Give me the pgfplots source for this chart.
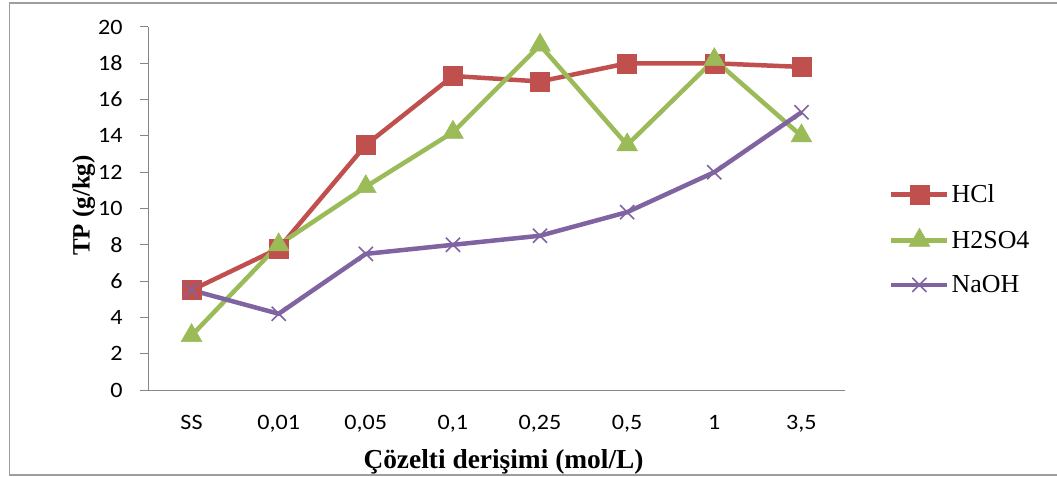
\documentclass[border=0pt]{standalone}
\usepackage{fontspec}
\usepackage{pgfplots}
\pgfplotsset{compat=1.18}
\setmainfont{Liberation Serif}
\newfontfamily\calibri[FakeStretch=1.1]{Carlito}

\definecolor{hclred}{HTML}{C0504D}
\definecolor{acidgreen}{HTML}{9BBB59}
\definecolor{basepurple}{HTML}{8064A2}
\definecolor{axisgray}{HTML}{868686}

\begin{document}
\begin{tikzpicture}
\path[use as bounding box] (0bp,0bp) rectangle (1057bp,477bp);
% outer chart frame
\draw[color=axisgray!80, line width=1.5bp] (1058bp,474bp) -- (9.5bp,474bp) -- (9.5bp,2bp) -- (1058bp,2bp);
\begin{axis}[
  at={(148bp,87bp)}, anchor=south west,
  width=697bp, height=363bp, scale only axis,
  xmin=-0.5, xmax=7.5, ymin=0, ymax=20,
  axis lines*=left,
  axis line style={color=axisgray, line width=1bp},
  /pgf/number format/assume math mode=true,
  xtick={0,...,7},
  xticklabels={SS,{0,01},{0,05},{0,1},{0,25},{0,5},1,{3,5}},
  x tick style={draw=none},
  extra x ticks={-0.5,0.5,...,7.5},
  extra x tick labels={},
  extra x tick style={tick style={draw=axisgray, line width=1bp}, major tick length=8bp, tick align=outside},
  ytick={0,2,...,20},
  y tick style={draw=axisgray, line width=1bp},
  major tick length=8bp, tick align=outside,
  tick label style={font=\calibri\fontsize{22}{22}\selectfont, text=black},
  yticklabel style={xshift=-14bp},
  xticklabel style={yshift=-14bp},
  xlabel={\bfseries Çözelti derişimi (mol/L)},
  ylabel={\bfseries TP (g/kg)},
  xlabel style={font=\fontsize{27.5}{27.5}\selectfont, yshift=6bp, xshift=7bp},
  ylabel style={font=\fontsize{25}{25}\selectfont, yshift=-4bp, xshift=3bp},
  legend style={draw=none, fill=none, at={(1,0.5)}, anchor=west, xshift=44bp, yshift=-31bp,
    font=\fontsize{26}{26}\selectfont, row sep=22bp, inner sep=0pt},
  legend cell align=left,
  legend image code/.code={\draw[#1, mark repeat=2, mark phase=2] plot coordinates {(0bp,0bp) (28bp,0bp) (56bp,0bp)};},
  every axis plot/.append style={line width=4.5bp},
]
\addplot[color=hclred, mark=square*, mark size=9.5bp, mark options={solid, fill=hclred, line width=0.5bp}]
  coordinates {(0,5.5) (1,7.8) (2,13.5) (3,17.3) (4,17.0) (5,18.0) (6,18.0) (7,17.8)};
\addlegendentry{HCl}
\addplot[color=acidgreen, mark=triangle*, mark size=12bp, mark options={solid, fill=acidgreen, line width=0.5bp}]
  coordinates {(0,3.0) (1,8.0) (2,11.2) (3,14.2) (4,19.0) (5,13.5) (6,18.2) (7,14.0)};
\addlegendentry{H2SO4}
\addplot[color=basepurple, mark=x, mark size=10bp, mark options={solid, line width=1.6bp}]
  coordinates {(0,5.5) (1,4.2) (2,7.5) (3,8.0) (4,8.5) (5,9.8) (6,12.0) (7,15.3)};
\addlegendentry{NaOH}
\end{axis}
\end{tikzpicture}
\end{document}
